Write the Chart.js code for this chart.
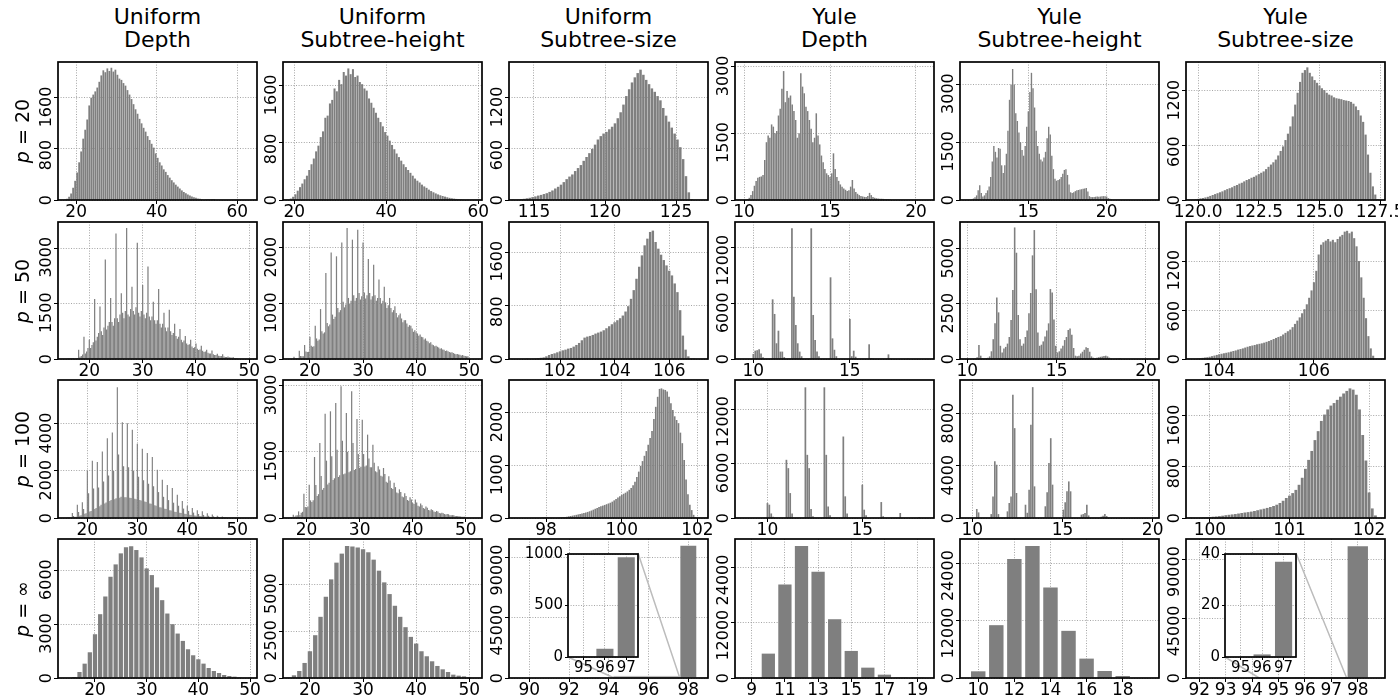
<!DOCTYPE html>
<html><head><meta charset="utf-8">
<script src="https://cdn.jsdelivr.net/npm/chart.js@4"></script>
<style>
html,body{margin:0;padding:0;background:#fff;}
body{width:1398px;height:698px;overflow:hidden;position:relative;font-family:"DejaVu Sans",sans-serif;color:#000;}
.title{position:absolute;width:260px;text-align:center;font-size:22px;line-height:23px;white-space:pre-line;}
.rowlab{position:absolute;width:140px;height:24px;line-height:24px;text-align:center;font-size:19px;white-space:nowrap;transform:rotate(-90deg);}
</style></head><body>
<script>
// ---------------- DATA ----------------
const colTitles = ['Uniform\nDepth','Uniform\nSubtree-height','Uniform\nSubtree-size','Yule\nDepth','Yule\nSubtree-height','Yule\nSubtree-size'];
const rowLabels = ['20','50','100','\u221E'];

// p = 20
const u20DepthCounts = [5,20,50,100,190,300,430,590,760,960,1100,1260,1480,1600,1650,1700,1760,1850,1950,2030,2000,2060,2020,2070,2010,2040,1960,1900,1880,1830,1790,1720,1650,1580,1500,1420,1350,1270,1200,1130,1070,1000,940,880,820,730,660,590,540,480,440,390,350,310,275,240,210,180,150,125,105,85,70,55,45,35,25,18,12,8,5,3,2,1,1,0];
const u20HeightCounts = [20,45,80,130,180,230,290,340,420,500,580,680,760,880,960,1150,1180,1350,1400,1560,1520,1680,1620,1790,1740,1840,1760,1830,1720,1740,1650,1620,1560,1530,1420,1360,1290,1220,1150,1090,1030,950,900,830,770,710,650,600,550,500,460,420,380,340,300,270,245,215,190,170,145,125,108,92,78,66,56,47,38,30,24,19,15,12,10,8,6,4];
const u20SizeCounts = [2,4,6,10,14,20,26,34,42,52,60,70,80,95,112,135,155,180,210,245,275,300,340,375,410,460,505,550,600,650,710,750,780,800,830,860,900,960,1030,1120,1220,1300,1380,1440,1490,1530,1470,1410,1360,1310,1270,1220,1170,1080,990,920,850,780,710,620,480,280,90,10];
const y20DepthCounts = [20,50,110,200,320,430,500,520,530,560,900,1300,1450,1400,1700,1650,1500,1550,1900,2050,2500,2900,2200,2450,2300,2350,2150,2000,1800,1400,1500,2850,2550,2400,2100,2000,1800,1600,1300,1400,1950,1450,1250,1000,850,700,600,560,520,600,1050,700,520,430,350,300,260,230,200,220,300,450,260,180,140,110,90,80,70,70,90,160,110,70,50,40,35,30,28,25,22,20,18,15,12,10,8];
const y20HeightCounts = [10,20,40,70,120,250,380,180,90,120,180,250,350,600,1000,1400,1250,1100,1350,1330,900,700,900,1200,1800,2600,3000,3400,3000,2250,2050,1750,1500,1300,1150,1400,1900,2300,2800,3300,2900,2400,1800,1400,1200,1050,1000,1100,1250,1600,1900,1700,1150,800,550,500,520,540,600,680,780,800,650,400,200,180,200,230,250,260,270,280,290,300,310,220,100,80,75,80,85,90,85,90,95,100,95,90,50,30,20,15,10];
const y20SizeCounts = [5,8,12,18,22,28,35,45,55,65,75,85,95,108,120,130,140,155,165,180,190,205,220,230,245,255,270,285,300,315,340,365,390,415,445,490,540,590,660,730,810,920,1050,1180,1300,1400,1430,1460,1400,1360,1320,1290,1260,1230,1210,1180,1160,1150,1130,1120,1115,1110,1100,1095,1090,1080,1060,1030,990,930,860,720,500,300,150,60,10];

// p = 50
const u50DepthCounts = [10,5,5,10, 30,15,20,30, 250,60,80,120, 600,150,200,300, 520,300,380,450, 1620,500,600,700, 1420,750,650,850, 2690,800,900,1000, 1650,1000,900,1100, 3390,1100,1000,1200, 1780,1250,1100,1300, 3540,1200,1150,1350, 1950,1300,1200,1400, 3140,1250,1150,1300, 2000,1200,1100,1250, 2500,1150,1050,1150, 1550,1050,950,1050, 1890,950,850,950, 1250,850,750,850, 1330,750,650,700, 950,620,550,600, 810,520,450,500, 620,420,380,400, 520,340,300,320, 420,280,240,260, 360,220,190,200, 250,170,150,150, 230,130,110,110, 140,90,80,80, 130,65,55,55, 70,45,40,40, 50,30,25,20];
const u50HeightCounts = [40,15,12,15, 150,52,48,50, 250,135,125,130, 400,240,220,230, 600,370,330,350, 900,500,460,480, 1550,650,590,620, 1920,800,720,760, 1850,920,840,880, 2100,1030,930,980, 2360,1100,1000,1050, 2150,1150,1050,1100, 2330,1190,1070,1130, 2100,1200,1090,1150, 1800,1190,1070,1130, 1700,1150,1050,1100, 1430,1100,1000,1050, 1300,1020,920,970, 1100,920,840,880, 950,830,750,790, 820,730,660,700, 700,640,580,610, 600,550,490,520, 480,460,420,440, 400,390,350,370, 330,315,285,300, 260,250,230,240, 220,205,185,195, 170,165,145,155, 140,125,115,120, 110,95,85,90, 80,75,65,70, 60,52,48,50];
const u50SizeCounts = [3,5,8,10,14,18,24,40,60,75,85,100,115,130,140,155,165,185,210,240,280,320,335,345,360,380,395,410,430,460,490,520,550,580,610,650,710,790,900,1030,1200,1380,1550,1700,1800,1900,1920,1750,1650,1560,1480,1400,1320,1250,1130,1000,730,350,140,40,10,2];
const y50DepthX = [10.0,10.1,10.2,10.3,10.4,10.5, 11.0,11.1,11.2,11.3,11.4,11.5,11.6, 12.0,12.1,12.2,12.3,12.4,12.5, 13.0,13.1,13.2,13.3,13.4, 14.0,14.1,14.2,14.3, 15.0,15.1,15.2,15.3, 16.0,16.1,16.2, 17.0,17.1, 18.0];
const y50DepthCounts = [550,900,950,1050,600,200, 6450,4870,1700,3060,800,800,200, 14130,6740,3680,1700,800,300, 14130,4760,2050,800,300, 8830,2230,1000,300, 4330,300,900,250, 1590,100,80, 500,60, 70];
const y50HeightCounts = [30,80,640,150,40,30,40,60,120,350,900,1620,2800,2120,600,300,480,550,700,1000,1770,3140,5980,4830,2000,900,600,700,1000,1300,2080,3000,4710,5860,3170,1200,600,650,800,1020,1300,1620,3180,3020,1800,600,300,350,480,600,860,1000,1320,1390,1100,500,150,120,150,250,330,420,530,500,330,120,60,50,60,80,100,110,140,150,120,60,30,20,15,10,8,5];
const y50SizeCounts = [5,8,10,14,18,22,28,35,42,50,58,64,70,76,82,90,98,105,115,122,130,140,150,158,165,172,180,186,192,200,210,220,232,245,258,270,280,300,320,340,360,390,430,470,510,560,610,670,750,840,940,1080,1280,1400,1430,1450,1470,1440,1460,1430,1470,1500,1520,1560,1570,1540,1560,1480,1380,1200,1000,750,500,280,130,40];

// p = 100
const u100DepthCounts = [30,15,10,10, 212,90,40,50, 565,250,100,120, 664,380,180,200, 2020,1050,280,300, 2430,1250,380,420, 2374,1300,500,560, 2826,1550,620,660, 3391,1800,720,760, 3631,2000,800,840, 5553,2700,860,900, 4069,2200,880,880, 4027,2150,860,850, 3744,2000,820,800, 3151,1750,760,740, 2939,1600,700,680, 2755,1450,620,600, 2586,1350,540,520, 2049,1100,460,450, 1625,900,390,380, 1400,760,330,320, 1272,650,270,260, 989,520,220,210, 720,400,180,170, 523,300,140,130, 424,230,110,100, 330,170,85,80, 283,130,65,60, 200,95,48,45, 150,70,35,32, 100,50,25,22, 60,30,15,12];
const u100HeightCounts = [20,25,75,30, 55,60,150,70, 120,140,552,250, 240,260,756,400, 360,400,1383,750, 500,540,1700,950, 640,680,2366,1300, 760,800,2419,1400, 860,900,2608,1550, 930,970,2986,1750, 990,1010,2381,1500, 1040,1060,2872,1700, 1090,1110,2245,1450, 1140,1160,2230,1450, 1170,1190,1890,1350, 1150,1150,1663,1250, 1060,1040,1172,1100, 960,940,1134,1000, 820,800,945,850, 680,660,800,700, 580,560,650,590, 490,470,560,500, 410,390,470,420, 340,320,420,350, 280,260,330,290, 225,210,260,230, 180,170,200,180, 145,135,160,145, 115,105,120,110, 90,80,90,85, 65,60,65,60, 48,44,45,42, 34,30,30,28];
const u100SizeCounts = [1,1,2,3,4,5,6,8,10,12,14,17,21,26,32,38,45,52,60,68,76,85,94,104,115,128,142,158,175,192,210,222,235,248,262,276,290,310,335,360,390,415,440,460,480,505,535,570,620,690,780,880,990,1080,1180,1270,1390,1520,1650,1880,2110,2300,2450,2460,2440,2430,2400,2300,2180,2050,1930,1860,1800,1620,1420,1100,730,450,250,150,60,20,5,1];
const y100DepthX = [10.0,10.1,10.2,10.3, 11.0,11.1,11.2,11.3, 12.0,12.1,12.2,12.3,12.4, 13.0,13.1,13.2,13.3, 14.0,14.1,14.2, 15.0,15.1,15.2, 16.0,16.1, 17.0,17.1, 18.0];
const y100DepthCounts = [1650,1470,500,150, 6420,5500,2750,500, 14420,6970,5500,1000,200, 14420,6970,1280,300, 8990,2390,500, 3670,920,300, 1760,200, 550,50, 110];
const y100HeightX = [10.25,10.35, 11.05,11.15,11.25,11.35,11.45, 11.95,12.05,12.15,12.25,12.35,12.45, 12.95,13.05,13.15,13.25,13.35,13.45, 14.05,14.15,14.25,14.35,14.45, 15.05,15.15,15.25,15.35,15.45, 16.05,16.15,16.25,16.35,16.45, 17.15,17.25,17.35,17.45, 18.35];
const y100HeightCounts = [690,430, 300,1660,4350,4090,300, 510,1150,1660,9460,6900,1920, 1020,400,2170,7160,10050,2430, 900,1970,4220,6130,2560, 640,1200,2050,2810,2050, 260,300,380,1020,200, 100,180,310,150, 40];
const y100SizeCounts = [3,5,7,9,11,13,16,20,24,30,36,44,50,56,62,70,78,86,92,100,110,122,134,145,158,172,188,208,235,270,313,350,390,440,520,630,770,910,1050,1220,1360,1520,1620,1700,1760,1800,1850,1900,1950,1990,2030,2010,1930,1700,1300,900,400,150,40];

// p = infinity
const uInfDepthCounts = [56,335,800,1434,2440,3558,4545,5645,6334,6949,7284,7340,7135,6725,6110,5738,5049,4340,3595,3000,2478,2068,1602,1267,1043,801,559,391,279,168,112,75,37,20,10];
const uInfHeightCounts = [36,143,375,804,1429,2286,3268,4340,5269,6162,6644,7055,7019,6965,6876,6716,6322,5733,5108,4483,3858,3268,2715,2197,1840,1429,1161,893,643,464,321,179,125,89,40];
const uInfSizeX = [95,96,97,98];
const uInfSizeCounts = [5,80,968,98940];
const yInfDepthX = [10,11,12,13,14,15,16,17,18,19];
const yInfDepthCounts = [5307,20356,28716,23119,12795,5889,2254,727,145,30];
const yInfHeightX = [10,11,12,13,14,15,16,17,18,19];
const yInfHeightCounts = [1400,11060,24920,27650,18970,9870,4060,1470,420,100];
const yInfSizeX = [96,97,98];
const yInfSizeCounts = [1,37,99960];

// ---------------- LAYOUT ----------------
const PANEL_LEFT = [58, 283, 509, 735, 960, 1186];
const PANEL_TOP = [62, 222, 380, 539];
const PANEL_H = [138, 137, 138, 139];
const PW = 199;
const ML = 34, MT = 10, MR = 26, MB = 28;
const BAR = '#7f7f7f';
const GRID = '#8e8e8e';
const TICK_FS = 17;
const YTICK_FS = 16;
Chart.defaults.font.family = 'DejaVu Sans';

function binCenters(start, step, n) {
  const out = [];
  for (let i = 0; i < n; i++) out.push(Math.round((start + i * step) * 10000) / 10000);
  return out;
}
function makeCanvas(left, top, w, h) {
  const c = document.createElement('canvas');
  c.width = w; c.height = h;
  c.style.cssText = 'position:absolute;left:' + left + 'px;top:' + top + 'px;width:' + w + 'px;height:' + h + 'px;';
  document.body.appendChild(c);
  return c;
}
function framePlugin() {
  return { id: 'frame', afterDraw(chart) {
    const ca = chart.chartArea, ctx = chart.ctx;
    ctx.save(); ctx.strokeStyle = '#000'; ctx.lineWidth = 1.7;
    ctx.strokeRect(ca.left, ca.top, ca.right - ca.left, ca.bottom - ca.top);
    ctx.restore();
  }};
}
function whiteBg() {
  return { id: 'whitebg', beforeDraw(chart) {
    const ca = chart.chartArea, ctx = chart.ctx;
    ctx.save(); ctx.fillStyle = '#fff';
    ctx.fillRect(ca.left, ca.top, ca.right - ca.left, ca.bottom - ca.top);
    ctx.restore();
  }};
}
function rotYLabels(labels) {
  return { id: 'rotY', afterDraw(chart) {
    const s = chart.scales.y, ctx = chart.ctx, ca = chart.chartArea;
    ctx.save();
    ctx.font = YTICK_FS + 'px "DejaVu Sans"';
    ctx.fillStyle = '#000'; ctx.textAlign = 'center'; ctx.textBaseline = 'alphabetic';
    s.ticks.forEach((t, i) => {
      const lbl = labels[i];
      const py = s.getPixelForValue(t.value);
      const w = ctx.measureText(lbl).width;
      ctx.save();
      ctx.translate(ca.left - 7, py + 0.3 * Math.max(0, w - 10));
      ctx.rotate(-Math.PI / 2);
      ctx.fillText(lbl, 0, 0);
      ctx.restore();
    });
    ctx.restore();
  }};
}
function insetRect(ca, ins) {
  const w = ca.right - ca.left, h = ca.bottom - ca.top;
  return { x0: ca.left + Math.round(ins.fx0 * w), x1: ca.left + Math.round(ins.fx1 * w),
           y0: ca.top + Math.round(ins.fy0 * h), y1: ca.top + Math.round(ins.fy1 * h) };
}
function connectorPlugin(ins) {
  return { id: 'conn', afterDatasetsDraw(chart) {
    const ca = chart.chartArea, xs = chart.scales.x, ys = chart.scales.y, ctx = chart.ctx;
    const r = insetRect(ca, ins);
    const rx0 = xs.getPixelForValue(ins.xMin), rx1 = xs.getPixelForValue(ins.xMax);
    const ry0 = ys.getPixelForValue(0), ry1 = ys.getPixelForValue(ins.yMax);
    ctx.save(); ctx.strokeStyle = '#bcbcbc'; ctx.lineWidth = 1.5;
    ctx.beginPath();
    ctx.moveTo(r.x1, r.y0); ctx.lineTo(rx1, ry1);
    ctx.moveTo(r.x0, r.y1); ctx.lineTo(rx0, ry0);
    ctx.stroke();
    ctx.strokeRect(rx0, ry1, rx1 - rx0, ry0 - ry1);
    ctx.restore();
  }};
}
function xScaleCfg(min, max, labels, fs, height, tl, pad) {
  const vals = labels.map(Number);
  return {
    type: 'linear', min: min, max: max, offset: false, z: 1,
    grid: { offset: false, color: GRID, lineWidth: 0.8, drawTicks: true, tickLength: tl, tickColor: '#000', tickWidth: 1 },
    border: { display: false, dash: [1, 1.6] },
    ticks: { autoSkip: false, maxRotation: 0, minRotation: 0, color: '#000', font: { family: 'DejaVu Sans', size: fs }, padding: pad,
             callback: (v, i) => labels[i] },
    afterBuildTicks: s => { s.ticks = vals.map(v => ({ value: v })); },
    afterFit: s => { s.height = height; }
  };
}
function yScaleCfg(max, labels, width, tl, builtinFs) {
  const vals = labels.map(Number);
  const ticks = builtinFs ? { color: '#000', font: { family: 'DejaVu Sans', size: builtinFs }, padding: 2, callback: (v, i) => labels[i] } : { display: false };
  return {
    type: 'linear', min: 0, max: max, z: 1,
    grid: { color: GRID, lineWidth: 0.8, drawTicks: true, tickLength: tl, tickColor: '#000', tickWidth: 1 },
    border: { display: false, dash: [1, 1.6] },
    ticks: ticks,
    afterBuildTicks: s => { s.ticks = vals.map(v => ({ value: v })); },
    afterFit: s => { s.width = width; }
  };
}

const panels = [
  {r:0,c:0, x:binCenters(17.25,0.5,u20DepthCounts.length), y:u20DepthCounts, xMin:15.5, xMax:64.9, yMax:2160, xl:['20','40','60'], yl:['0','800','1600'], bp:0.88},
  {r:0,c:1, x:binCenters(19.25,0.5,u20HeightCounts.length), y:u20HeightCounts, xMin:17.55, xMax:60.8, yMax:1930, xl:['20','40','60'], yl:['0','800','1600'], bp:0.88},
  {r:0,c:2, x:binCenters(113.5,0.2,u20SizeCounts.length), y:u20SizeCounts, xMin:113.24, xMax:127.25, yMax:1620, xl:['115','120','125'], yl:['0','600','1200'], bp:0.88},
  {r:0,c:3, x:binCenters(10.2,0.1,y20DepthCounts.length), y:y20DepthCounts, xMin:9.47, xMax:21.05, yMax:3104, xl:['10','15','20'], yl:['0','1500','3000'], bp:0.88},
  {r:0,c:4, x:binCenters(11.3,0.1,y20HeightCounts.length), y:y20HeightCounts, xMin:10.64, xMax:23.34, yMax:3581, xl:['15','20'], yl:['0','1500','3000'], bp:0.88},
  {r:0,c:5, x:binCenters(119.8,0.1,y20SizeCounts.length), y:y20SizeCounts, xMin:119.5, xMax:127.7, yMax:1519, xl:['120.0','122.5','125.0','127.5'], yl:['0','600','1200'], bp:0.88},

  {r:1,c:0, x:binCenters(16,0.25,u50DepthCounts.length), y:u50DepthCounts, xMin:14.13, xMax:51.44, yMax:3703, xl:['20','30','40','50'], yl:['0','1500','3000'], bp:0.92},
  {r:1,c:1, x:binCenters(17,0.25,u50HeightCounts.length), y:u50HeightCounts, xMin:14.93, xMax:52.4, yMax:2468, xl:['20','30','40','50'], yl:['0','1000','2000'], bp:0.92},
  {r:1,c:2, x:binCenters(100.8,0.1,u50SizeCounts.length), y:u50SizeCounts, xMin:100.13, xMax:107.42, yMax:2049, xl:['102','104','106'], yl:['0','800','1600'], bp:0.88},
  {r:1,c:3, x:y50DepthX, y:y50DepthCounts, xMin:9.05, xMax:19.36, yMax:14810, xl:['10','15'], yl:['0','6000','12000'], bp:0.9},
  {r:1,c:4, x:binCenters(10.45,0.1,y50HeightCounts.length), y:y50HeightCounts, xMin:9.59, xMax:20.73, yMax:6227, xl:['10','15','20'], yl:['0','2500','5000'], bp:0.88},
  {r:1,c:5, x:binCenters(103.5,0.05,y50SizeCounts.length), y:y50SizeCounts, xMin:103.3, xMax:107.5, yMax:1678, xl:['104','106'], yl:['0','600','1200'], bp:0.88},

  {r:2,c:0, x:binCenters(16,0.25,u100DepthCounts.length), y:u100DepthCounts, xMin:14.13, xMax:53.94, yMax:5860, xl:['20','30','40','50'], yl:['0','2000','4000'], bp:0.92},
  {r:2,c:1, x:binCenters(17,0.25,u100HeightCounts.length), y:u100HeightCounts, xMin:15.56, xMax:53.06, yMax:3129, xl:['20','30','40','50'], yl:['0','1500','3000'], bp:0.92},
  {r:2,c:2, x:binCenters(97.9,0.05,u100SizeCounts.length), y:u100SizeCounts, xMin:97.02, xMax:102.28, yMax:2619, xl:['98','100','102'], yl:['0','1000','2000'], bp:0.88},
  {r:2,c:3, x:y100DepthX, y:y100DepthCounts, xMin:8.29, xMax:18.78, yMax:15226, xl:['10','15'], yl:['0','6000','12000'], bp:0.9},
  {r:2,c:4, x:y100HeightX, y:y100HeightCounts, xMin:9.32, xMax:20.35, yMax:10598, xl:['10','15','20'], yl:['0','4000','8000'], bp:0.9},
  {r:2,c:5, x:binCenters(99.76,0.04,y100SizeCounts.length), y:y100SizeCounts, xMin:99.7, xMax:102.2, yMax:2161, xl:['100','101','102'], yl:['0','800','1600'], bp:0.88},

  {r:3,c:0, x:binCenters(16,1,uInfDepthCounts.length), y:uInfDepthCounts, xMin:12.84, xMax:51.35, yMax:7750, xl:['20','30','40','50'], yl:['0','3000','6000'], bp:0.82},
  {r:3,c:1, x:binCenters(16,1,uInfHeightCounts.length), y:uInfHeightCounts, xMin:14.93, xMax:52.4, yMax:7425, xl:['20','30','40','50'], yl:['0','2500','5000'], bp:0.82},
  {r:3,c:2, x:uInfSizeX, y:uInfSizeCounts, xMin:88.98, xMax:98.99, yMax:104000, xl:['90','92','94','96','98'], yl:['0','45000','90000'], bp:0.8,
   inset:{fx0:0.298, fx1:0.650, fy0:0.103, fy1:0.851, xMin:94.27, xMax:97.55, yMax:1000, xl:['95','96','97'], yl:['0','500','1000']}},
  {r:3,c:3, x:yInfDepthX, y:yInfDepthCounts, xMin:7.99, xMax:19.99, yMax:30260, xl:['9','11','13','15','17','19'], yl:['0','12000','24000'], bp:0.8},
  {r:3,c:4, x:yInfHeightX, y:yInfHeightCounts, xMin:8.99, xMax:20.01, yMax:29100, xl:['10','12','14','16','18'], yl:['0','12000','24000'], bp:0.8},
  {r:3,c:5, x:yInfSizeX, y:yInfSizeCounts, xMin:91.5, xMax:99.03, yMax:105400, xl:['92','93','94','95','96','97','98'], yl:['0','45000','90000'], bp:0.77,
   inset:{fx0:0.196, fx1:0.551, fy0:0.103, fy1:0.851, xMin:94.27, xMax:97.58, yMax:40, xl:['95','96','97'], yl:['0','20','40']}}
];

function points(p) { return p.x.map((x, i) => ({ x: x, y: p.y[i] })); }

function drawPanel(p) {
  const left = PANEL_LEFT[p.c], top = PANEL_TOP[p.r], h = PANEL_H[p.r];
  const cv = makeCanvas(left - ML, top - MT, ML + PW + MR, MT + h + MB);
  const plugins = [framePlugin(), rotYLabels(p.yl)];
  if (p.inset) plugins.push(connectorPlugin(p.inset));
  new Chart(cv, {
    type: 'bar',
    data: { datasets: [{ data: points(p), backgroundColor: BAR, borderWidth: 0, barPercentage: p.bp, categoryPercentage: 1 }] },
    options: {
      responsive: false, animation: false, devicePixelRatio: 1, events: [],
      layout: { padding: { left: 0, top: MT, right: MR, bottom: 0 } },
      plugins: { legend: { display: false }, tooltip: { enabled: false } },
      scales: { x: xScaleCfg(p.xMin, p.xMax, p.xl, TICK_FS, MB, 4, -2), y: yScaleCfg(p.yMax, p.yl, ML, 4, 0) }
    },
    plugins: plugins
  });
  if (p.inset) drawInset(p);
}

function drawInset(p) {
  const ins = p.inset;
  const ca = { left: PANEL_LEFT[p.c], right: PANEL_LEFT[p.c] + PW, top: PANEL_TOP[p.r], bottom: PANEL_TOP[p.r] + PANEL_H[p.r] };
  const r = insetRect(ca, ins);
  const IL = 46, IT = 10, IR = 12, IB = 22;
  const w = r.x1 - r.x0, h = r.y1 - r.y0;
  const cv = makeCanvas(r.x0 - IL, r.y0 - IT, IL + w + IR, IT + h + IB);
  new Chart(cv, {
    type: 'bar',
    data: { datasets: [{ data: points(p), backgroundColor: BAR, borderWidth: 0, barPercentage: 0.8, categoryPercentage: 1 }] },
    options: {
      responsive: false, animation: false, devicePixelRatio: 1, events: [],
      layout: { padding: { left: 0, top: IT, right: IR, bottom: 0 } },
      plugins: { legend: { display: false }, tooltip: { enabled: false } },
      scales: { x: xScaleCfg(ins.xMin, ins.xMax, ins.xl, 15, IB, 3, -1), y: yScaleCfg(ins.yMax, ins.yl, IL, 3, 15) }
    },
    plugins: [whiteBg(), framePlugin()]
  });
}

panels.forEach(drawPanel);

// titles and row labels (real text)
colTitles.forEach((t, c) => {
  const d = document.createElement('div');
  d.className = 'title';
  d.textContent = t;
  d.style.left = (PANEL_LEFT[c] + PW / 2 - 130) + 'px';
  d.style.top = '5px';
  document.body.appendChild(d);
});
rowLabels.forEach((t, r) => {
  const d = document.createElement('div');
  d.className = 'rowlab';
  d.innerHTML = '<i>p</i> = ' + t;
  const cy = PANEL_TOP[r] + PANEL_H[r] / 2;
  d.style.left = (22 - 70) + 'px';
  d.style.top = (cy - 12) + 'px';
  document.body.appendChild(d);
});
</script>
</body></html>
